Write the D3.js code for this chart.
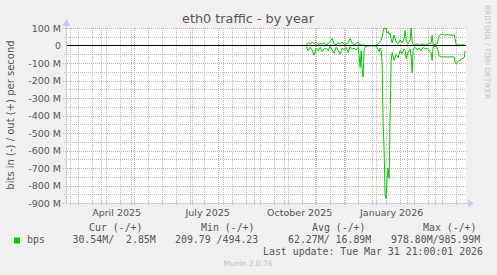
<!DOCTYPE html>
<html>
<head>
<meta charset="utf-8">
<script src="https://cdn.jsdelivr.net/npm/d3@7"></script>
<style>
  html, body { margin: 0; padding: 0; background: #f0f0f0; }
  svg { display: block; }
  text { white-space: pre; }
</style>
</head>
<body>
<svg id="chart" width="497" height="275"></svg>
<script>
// ---------- data ----------
const title = "eth0 traffic - by year";
const yAxisLabel = "bits in (-) / out (+) per second";
const yTicks = [100e6, 0, -100e6, -200e6, -300e6, -400e6, -500e6, -600e6, -700e6, -800e6, -900e6];
const yTickLabels = ["100 M", "0", "-100 M", "-200 M", "-300 M", "-400 M", "-500 M", "-600 M", "-700 M", "-800 M", "-900 M"];
const xLabelDates = ["2025-04-16T12:00Z", "2025-07-16T12:00Z", "2025-10-16T12:00Z", "2026-01-16T12:00Z"];
const xLabels = ["April 2025", "July 2025", "October 2025", "January 2026"];
const timeStart = "2025-02-24T21:00:00Z";
const timeEnd = "2026-03-31T21:00:00Z";
const minorGridStart = "2025-03-09T00:00:00Z";

const dates = [
  "2025-10-23","2025-10-25","2025-10-27","2025-10-29","2025-10-31","2025-11-02","2025-11-04","2025-11-06",
  "2025-11-08","2025-11-10","2025-11-12","2025-11-14","2025-11-16","2025-11-18","2025-11-20","2025-11-22",
  "2025-11-24","2025-11-26","2025-11-28","2025-11-30","2025-12-02","2025-12-04","2025-12-06","2025-12-08",
  "2025-12-10","2025-12-12","2025-12-14","2025-12-15","2025-12-16","2025-12-17","2025-12-18","2025-12-19",
  "2025-12-20","2025-12-22","2025-12-25","2025-12-28","2025-12-31","2026-01-02","2026-01-04","2026-01-05",
  "2026-01-06","2026-01-07","2026-01-08","2026-01-09","2026-01-10","2026-01-11","2026-01-12","2026-01-13",
  "2026-01-14","2026-01-15","2026-01-16","2026-01-17","2026-01-19","2026-01-21","2026-01-23","2026-01-25",
  "2026-01-27","2026-01-29","2026-01-30","2026-01-31","2026-02-02","2026-02-04","2026-02-05","2026-02-06",
  "2026-02-07","2026-02-09","2026-02-11","2026-02-13","2026-02-15","2026-02-17","2026-02-19","2026-02-21",
  "2026-02-23","2026-02-25","2026-02-26","2026-02-27","2026-03-01","2026-03-03","2026-03-05","2026-03-07",
  "2026-03-10","2026-03-13","2026-03-16","2026-03-19","2026-03-20","2026-03-21","2026-03-22","2026-03-24",
  "2026-03-26","2026-03-28","2026-03-30","2026-03-31"
];
// out (+) in Mbit/s
const outValues = [
  5,15,8,20,10,18,5,12,
  8,15,5,10,25,40,10,5,
  15,8,20,5,10,15,40,15,
  5,10,20,8,5,3,2,2,
  2,0,0,0,0,5,15,25,
  30,50,80,100,95,100,70,80,
  65,70,40,15,60,20,10,30,
  15,40,85,30,10,30,100,20,
  5,5,10,2,5,8,2,5,
  10,15,60,5,5,10,55,65,
  60,62,60,58,60,40,5,3,
  3,3,3,2.85
];
// in (-) in Mbit/s (plotted negative)
const inValues = [
  5,30,10,25,55,15,30,10,
  35,20,15,30,5,25,45,10,
  30,50,15,25,10,40,5,20,
  15,25,10,60,125,30,140,180,
  20,3,2,2,3,10,35,15,
  30,100,440,600,850,875,760,700,
  760,400,90,40,85,50,70,30,
  45,20,30,75,40,20,60,155,
  20,10,25,15,30,10,20,15,
  30,40,85,10,5,10,60,65,
  65,65,65,65,65,100,105,90,
  85,75,70,30.54
];

const legendHeader = ["Cur (-/+)", "Min (-/+)", "Avg (-/+)", "Max (-/+)"];
const legendName = "bps";
const legendValues = ["30.54M/  2.85M", "209.79 /494.23", "62.27M/ 16.89M", "978.80M/985.99M"];
const lastUpdate = "Last update: Tue Mar 31 21:00:01 2026";
const footer = "Munin 2.0.76";
const watermark = "RRDTOOL / TOBI OETIKER";

// ---------- drawing ----------
const svg = d3.select("#chart");
const W = 497, H = 275;
const plot = { left: 66, right: 466, top: 28, bottom: 203 };
const lineColor = "#00cc00";
const textColor = "#555555";
const sansFont = "'DejaVu Sans', sans-serif";
const monoFont = "'DejaVu Sans Mono', monospace";

svg.append("rect").attr("width", W).attr("height", H).attr("fill", "#f0f0f0");

const x = d3.scaleUtc()
  .domain([new Date(timeStart), new Date(timeEnd)])
  .range([plot.left, plot.right]);
const y = d3.scaleLinear()
  .domain([-900e6, 100e6])
  .range([plot.bottom, plot.top]);

svg.append("rect")
  .attr("x", plot.left).attr("y", plot.top)
  .attr("width", plot.right - plot.left).attr("height", plot.bottom - plot.top)
  .attr("fill", "#ffffff");

const grid = svg.append("g");
const minorDates = d3.utcDay.range(new Date(minorGridStart), new Date(timeEnd))
  .filter((d, i) => i % 14 === 0);
const monthDates = d3.utcMonth.range(new Date(timeStart), new Date(timeEnd));
const minorY = d3.range(-850e6, 100e6, 100e6);

const minorColor = "#bdbdbd";
const majorColor = "#eba8a8";

grid.selectAll(".vminor").data(minorDates).join("line")
  .attr("x1", d => Math.round(x(d)) + 0.5).attr("x2", d => Math.round(x(d)) + 0.5)
  .attr("y1", plot.top).attr("y2", plot.bottom + 2)
  .attr("stroke", minorColor).attr("stroke-width", 1).attr("stroke-dasharray", "1,1");
grid.selectAll(".hminor").data(minorY).join("line")
  .attr("x1", plot.left - 2).attr("x2", plot.right)
  .attr("y1", d => Math.round(y(d)) + 0.5).attr("y2", d => Math.round(y(d)) + 0.5)
  .attr("stroke", minorColor).attr("stroke-width", 1).attr("stroke-dasharray", "1,1");
grid.selectAll(".vmajor").data(monthDates).join("line")
  .attr("x1", d => Math.round(x(d)) + 0.5).attr("x2", d => Math.round(x(d)) + 0.5)
  .attr("y1", plot.top).attr("y2", plot.bottom + 3)
  .attr("stroke", majorColor).attr("stroke-width", 1).attr("stroke-dasharray", "1,1");
grid.selectAll(".hmajor").data(yTicks.filter(v => v !== 0)).join("line")
  .attr("x1", plot.left - 3).attr("x2", plot.right)
  .attr("y1", d => Math.round(y(d)) + 0.5).attr("y2", d => Math.round(y(d)) + 0.5)
  .attr("stroke", majorColor).attr("stroke-width", 1).attr("stroke-dasharray", "1,1");

// data lines
const outData = dates.map((d, i) => ({ t: new Date(d + "T00:00:00Z"), v: outValues[i] * 1e6 }));
const inData = dates.map((d, i) => ({ t: new Date(d + "T00:00:00Z"), v: -inValues[i] * 1e6 }));
const line = d3.line().x(d => x(d.t)).y(d => y(d.v));
svg.append("path").datum(inData).attr("d", line)
  .attr("fill", "none").attr("stroke", lineColor).attr("stroke-width", 1);
svg.append("path").datum(outData).attr("d", line)
  .attr("fill", "none").attr("stroke", lineColor).attr("stroke-width", 1);

// zero rule
svg.append("line")
  .attr("x1", plot.left).attr("x2", plot.right)
  .attr("y1", y(0)).attr("y2", y(0))
  .attr("stroke", "#000").attr("stroke-width", 1.2);

// axes (rrdtool style)
const axisColor = "#c8c8f0";
svg.append("line").attr("x1", plot.left + 0.5).attr("x2", plot.left + 0.5)
  .attr("y1", plot.bottom + 0.5).attr("y2", 23).attr("stroke", axisColor).attr("stroke-width", 1);
svg.append("path").attr("d", `M${plot.left - 3.5},26 L${plot.left + 0.5},19 L${plot.left + 4.5},26 Z`).attr("fill", axisColor);
svg.append("line").attr("x1", plot.left).attr("x2", plot.right + 4)
  .attr("y1", plot.bottom + 0.5).attr("y2", plot.bottom + 0.5).attr("stroke", axisColor).attr("stroke-width", 1);
svg.append("path").attr("d", `M${plot.right + 2},${plot.bottom - 3.5} L${plot.right + 8},${plot.bottom + 0.5} L${plot.right + 2},${plot.bottom + 4.5} Z`).attr("fill", axisColor);

// y tick labels
svg.selectAll(".ylab").data(yTicks).join("text")
  .attr("x", 61).attr("y", d => y(d) + 3.5)
  .attr("text-anchor", "end")
  .attr("font-family", sansFont).attr("font-size", 9.5).attr("fill", textColor)
  .text((d, i) => yTickLabels[i]);

// x labels
svg.selectAll(".xlab").data(xLabelDates).join("text")
  .attr("x", d => x(new Date(d))).attr("y", 216)
  .attr("text-anchor", "middle")
  .attr("font-family", sansFont).attr("font-size", 9.5).attr("fill", textColor)
  .text((d, i) => xLabels[i]);

// title
svg.append("text").attr("x", 248).attr("y", 23).attr("text-anchor", "middle")
  .attr("font-family", sansFont).attr("font-size", 12.8).attr("fill", textColor).text(title);

// y axis label
svg.append("text").attr("transform", "translate(14,115) rotate(-90)")
  .attr("text-anchor", "middle")
  .attr("font-family", sansFont).attr("font-size", 10).attr("fill", textColor).text(yAxisLabel);

// watermark
svg.append("text").attr("transform", "translate(485,5) rotate(90)")
  .attr("text-anchor", "start")
  .attr("font-family", sansFont).attr("font-size", 7.3).attr("fill", "#c4c4c4").text(watermark);

// legend
const headerX = [89, 201, 312, 423];
const valueX = [72.5, 175, 288, 391];
svg.selectAll(".lh").data(legendHeader).join("text")
  .attr("x", (d, i) => headerX[i]).attr("y", 231)
  .attr("font-family", monoFont).attr("font-size", 9.9).attr("fill", textColor).text(d => d);
svg.append("rect").attr("x", 14).attr("y", 237.5).attr("width", 6).attr("height", 6).attr("fill", lineColor);
svg.append("text").attr("x", 27).attr("y", 243)
  .attr("font-family", monoFont).attr("font-size", 9.9).attr("fill", textColor).text(legendName);
svg.selectAll(".lv").data(legendValues).join("text")
  .attr("x", (d, i) => valueX[i]).attr("y", 243)
  .attr("font-family", monoFont).attr("font-size", 9.9).attr("fill", textColor).text(d => d);
svg.append("text").attr("x", 483).attr("y", 255).attr("text-anchor", "end")
  .attr("font-family", monoFont).attr("font-size", 9.9).attr("fill", textColor).text(lastUpdate);
svg.append("text").attr("x", 248).attr("y", 266).attr("text-anchor", "middle")
  .attr("font-family", sansFont).attr("font-size", 7.5).attr("fill", "#c0c0c0").text(footer);
</script>
</body>
</html>
